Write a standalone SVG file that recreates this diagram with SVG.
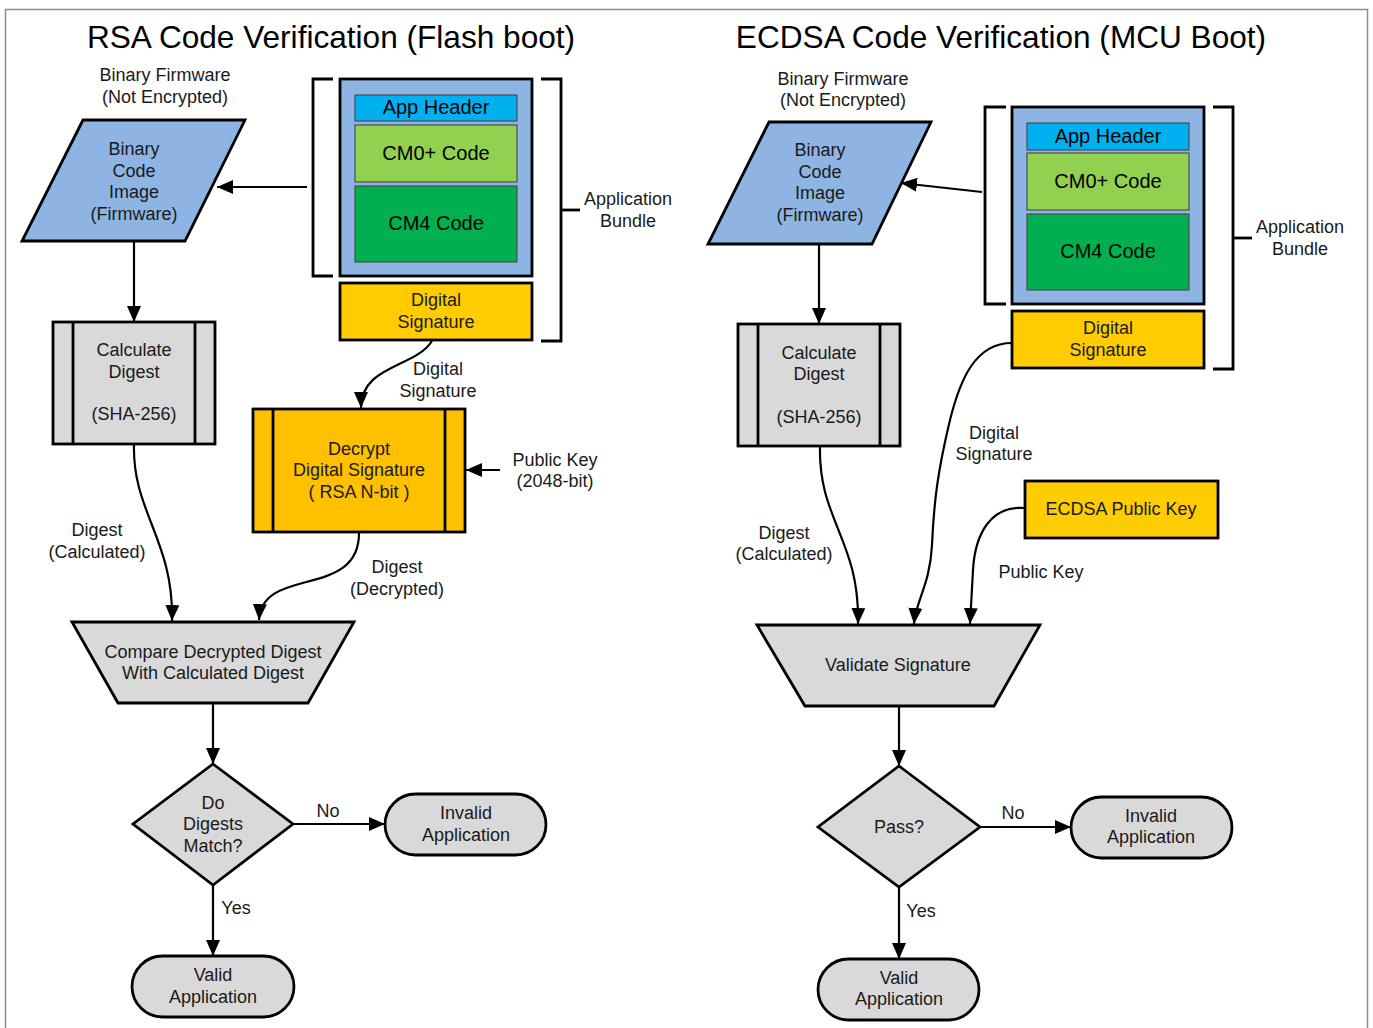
<svg xmlns="http://www.w3.org/2000/svg" width="1373" height="1028" viewBox="0 0 1373 1028">
<style>
text{font-family:"Liberation Sans",Arial,sans-serif;font-size:18px;fill:#1a1a1a;text-anchor:middle}
.title{font-size:31.6px;fill:#000}
.big{font-size:20px;fill:#000}
.shape{stroke:#000;stroke-width:2.8}
.inner{stroke:#4d4d4d;stroke-width:1.2}
.gray{fill:#d9d9d9}
.blue{fill:#8eb4e3}
.gold{fill:#ffcc00}
.amber{fill:#ffc000}
.br{fill:none;stroke:#000;stroke-width:2.8}
.con{fill:none;stroke:#000;stroke-width:2.2;marker-end:url(#ah)}
</style>
<defs>
<marker id="ah" markerUnits="userSpaceOnUse" markerWidth="17" markerHeight="15" refX="16" refY="7" orient="auto">
<path d="M0,0 L16,7 L0,14 z" fill="#000"/>
</marker>
</defs>
<rect x="5.5" y="9.5" width="1362" height="1040" fill="#fff" stroke="#8c8c8c" stroke-width="1.5"/>

<text class="title" x="331" y="48">RSA Code Verification (Flash boot)</text>
<text class="title" x="1001" y="48">ECDSA Code Verification (MCU Boot)</text>

<!-- LEFT -->
<g id="rsa-fw-label"><text x="165" y="81">Binary Firmware</text><text x="165" y="103">(Not Encrypted)</text></g>
<g id="rsa-binary">
<polygon class="shape blue" points="83,120 245,120 185,241 22,241"/>
<text x="134" y="155">Binary</text><text x="134" y="177">Code</text><text x="134" y="198">Image</text><text x="134" y="220">(Firmware)</text>
</g>
<g id="rsa-bundle">
<polyline class="br" points="333,79 313,79 313,276 333,276"/>
<polyline class="br" points="541,79 561,79 561,341 541,341"/>
<line class="br" x1="561" y1="210" x2="580" y2="210"/>
<rect class="shape blue" x="340" y="79" width="192" height="197"/>
<rect class="inner" fill="#00b0f0" x="355" y="95" width="162" height="26"/>
<text class="big" x="436" y="114">App Header</text>
<rect class="inner" fill="#92d050" x="355" y="125" width="162" height="57"/>
<text class="big" x="436" y="160">CM0+ Code</text>
<rect class="inner" fill="#00b050" x="355" y="186" width="162" height="76"/>
<text class="big" x="436" y="230">CM4 Code</text>
<text x="628" y="205">Application</text><text x="628" y="227">Bundle</text>
</g>
<g id="rsa-sig">
<rect class="shape gold" x="340" y="283" width="192" height="57"/>
<text x="436" y="306">Digital</text><text x="436" y="328">Signature</text>
</g>
<g id="rsa-calc">
<rect class="shape gray" x="53" y="322" width="162" height="122"/>
<line class="shape" x1="73" y1="322" x2="73" y2="444"/><line class="shape" x1="195" y1="322" x2="195" y2="444"/>
<text x="134" y="356">Calculate</text><text x="134" y="378">Digest</text><text x="134" y="420">(SHA-256)</text>
</g>
<g id="rsa-decrypt">
<rect class="shape amber" x="253" y="409" width="212" height="123"/>
<line class="shape" x1="273" y1="409" x2="273" y2="532"/><line class="shape" x1="445" y1="409" x2="445" y2="532"/>
<text x="359" y="455">Decrypt</text><text x="359" y="476">Digital Signature</text><text x="359" y="498">( RSA N-bit )</text>
</g>
<g id="rsa-compare">
<polygon class="shape gray" points="72,622 354,622 308,703 118,703"/>
<text x="213" y="658">Compare Decrypted Digest</text><text x="213" y="679">With Calculated Digest</text>
</g>
<g id="rsa-match">
<polygon class="shape gray" points="213,764 293,824 213,885 133,824"/>
<text x="213" y="809">Do</text><text x="213" y="830">Digests</text><text x="213" y="852">Match?</text>
</g>
<g id="rsa-invalid">
<rect class="shape gray" x="385" y="794" width="161" height="61" rx="30.5"/>
<text x="466" y="819">Invalid</text><text x="466" y="841">Application</text>
</g>
<g id="rsa-valid">
<rect class="shape gray" x="132" y="956" width="162" height="61" rx="30.5"/>
<text x="213" y="981">Valid</text><text x="213" y="1003">Application</text>
</g>

<!-- RIGHT -->
<g id="ec-fw-label"><text x="843" y="85">Binary Firmware</text><text x="843" y="106">(Not Encrypted)</text></g>
<g id="ec-binary">
<polygon class="shape blue" points="769,122 931,122 872,244 708,244"/>
<text x="820" y="156">Binary</text><text x="820" y="178">Code</text><text x="820" y="199">Image</text><text x="820" y="221">(Firmware)</text>
</g>
<g id="ec-bundle">
<polyline class="br" points="1006,107 985,107 985,304 1006,304"/>
<polyline class="br" points="1213,107 1233,107 1233,369 1213,369"/>
<line class="br" x1="1233" y1="238" x2="1252" y2="238"/>
<rect class="shape blue" x="1012" y="107" width="192" height="197"/>
<rect class="inner" fill="#00b0f0" x="1027" y="123" width="162" height="27"/>
<text class="big" x="1108" y="143">App Header</text>
<rect class="inner" fill="#92d050" x="1027" y="153" width="162" height="57"/>
<text class="big" x="1108" y="188">CM0+ Code</text>
<rect class="inner" fill="#00b050" x="1027" y="214" width="162" height="76"/>
<text class="big" x="1108" y="258">CM4 Code</text>
<text x="1300" y="233">Application</text><text x="1300" y="255">Bundle</text>
</g>
<g id="ec-sig">
<rect class="shape gold" x="1012" y="311" width="192" height="57"/>
<text x="1108" y="334">Digital</text><text x="1108" y="356">Signature</text>
</g>
<g id="ec-calc">
<rect class="shape gray" x="738" y="324" width="162" height="122"/>
<line class="shape" x1="758" y1="324" x2="758" y2="446"/><line class="shape" x1="880" y1="324" x2="880" y2="446"/>
<text x="819" y="359">Calculate</text><text x="819" y="380">Digest</text><text x="819" y="423">(SHA-256)</text>
</g>
<g id="ec-key">
<rect class="shape gold" x="1025" y="481" width="193" height="57"/>
<text x="1121" y="515">ECDSA Public Key</text>
</g>
<g id="ec-validate">
<polygon class="shape gray" points="757,625 1040,625 994,706 805,706"/>
<text x="898" y="671">Validate Signature</text>
</g>
<g id="ec-pass">
<polygon class="shape gray" points="899,766 980,827 899,887 818,827"/>
<text x="899" y="833">Pass?</text>
</g>
<g id="ec-invalid">
<rect class="shape gray" x="1071" y="797" width="161" height="61" rx="30.5"/>
<text x="1151" y="822">Invalid</text><text x="1151" y="843">Application</text>
</g>
<g id="ec-valid">
<rect class="shape gray" x="818" y="959" width="161" height="61" rx="30.5"/>
<text x="899" y="984">Valid</text><text x="899" y="1005">Application</text>
</g>

<g id="connectors">
<path class="con" d="M307,187 L217,187"/>
<path class="con" d="M134,241 L134,322"/>
<path class="con" d="M432,341 C415,368 361,365 361,408"/>
<path class="con" d="M500,470 L466,470"/>
<path class="con" d="M134,444 C132,512 174,540 172,621"/>
<path class="con" d="M359,532 C360,600 262,565 259,620"/>
<path class="con" d="M213,703 L213,764"/>
<path class="con" d="M293,824 L385,824"/>
<path class="con" d="M213,885 L213,956"/>

<path class="con" d="M982,192 L901,183"/>
<path class="con" d="M819,244 L819,324"/>
<path class="con" d="M820,446 C818,520 860,540 858,624"/>
<path class="con" d="M1012,343 C975,343 960,380 950,420 C938,470 934,500 932,545 C930,585 916,600 914,624"/>
<path class="con" d="M1025,508 C990,505 975,535 973,570 C972,590 971,605 970,624"/>
<path class="con" d="M899,706 L899,766"/>
<path class="con" d="M980,827 L1071,827"/>
<path class="con" d="M899,887 L899,959"/>

<text x="438" y="375">Digital</text><text x="438" y="397">Signature</text>
<text x="555" y="466">Public Key</text><text x="555" y="487">(2048-bit)</text>
<text x="97" y="536">Digest</text><text x="97" y="558">(Calculated)</text>
<text x="397" y="573">Digest</text><text x="397" y="595">(Decrypted)</text>
<text x="328" y="817">No</text>
<text x="236" y="914">Yes</text>
<text x="994" y="439">Digital</text><text x="994" y="460">Signature</text>
<text x="784" y="539">Digest</text><text x="784" y="560">(Calculated)</text>
<text x="1041" y="578">Public Key</text>
<text x="1013" y="819">No</text>
<text x="921" y="917">Yes</text>
</g>
</svg>
